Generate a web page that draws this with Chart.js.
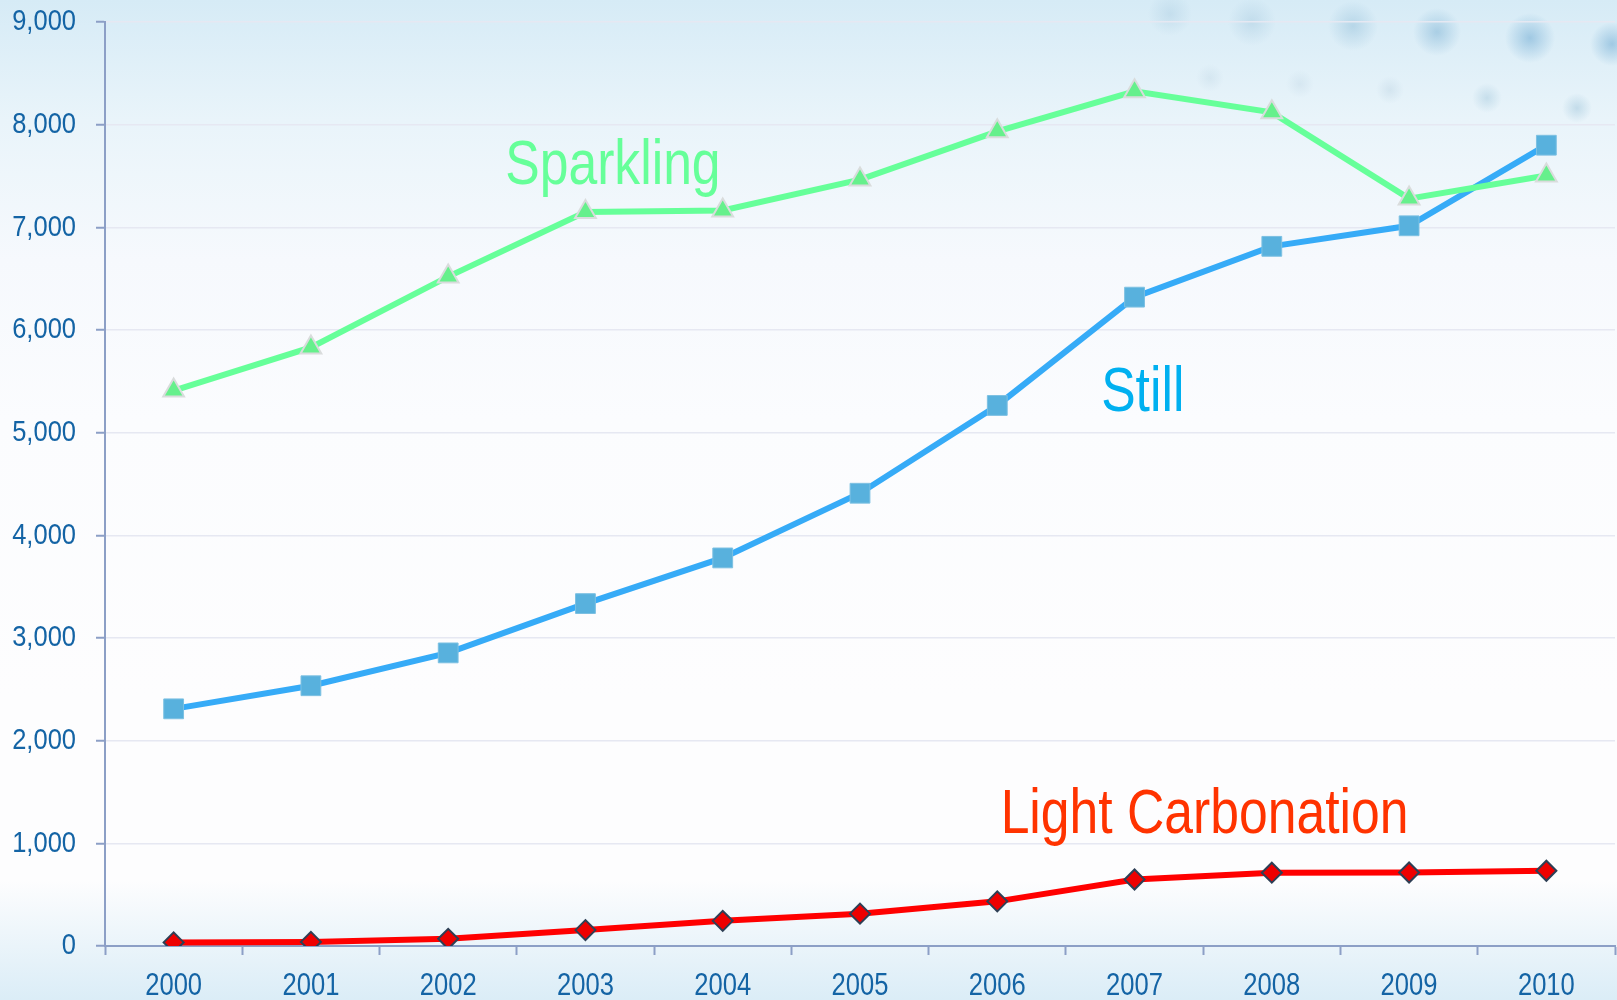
<!DOCTYPE html>
<html>
<head>
<meta charset="utf-8">
<title>Water sales</title>
<script src="https://cdn.jsdelivr.net/npm/chart.js@4/dist/chart.umd.min.js"></script>
<style>
  html, body {
    margin: 0;
    padding: 0;
    width: 1617px;
    height: 1000px;
    overflow: hidden;
  }
  body {
    background:
      radial-gradient(circle at 1170px 14px, rgba(150, 190, 215, 0.3) 0, rgba(150, 190, 215, 0) 22px),
      radial-gradient(circle at 1252px 22px, rgba(150, 190, 215, 0.35) 0, rgba(150, 190, 215, 0) 24px),
      radial-gradient(circle at 1353px 26px, rgba(130, 180, 210, 0.4) 0, rgba(130, 180, 210, 0) 25px),
      radial-gradient(circle at 1437px 32px, rgba(120, 175, 210, 0.5) 0, rgba(120, 175, 210, 0) 24px),
      radial-gradient(circle at 1530px 38px, rgba(110, 170, 210, 0.55) 0, rgba(110, 170, 210, 0) 25px),
      radial-gradient(circle at 1612px 44px, rgba(110, 170, 210, 0.55) 0, rgba(110, 170, 210, 0) 22px),
      radial-gradient(circle at 1210px 78px, rgba(160, 190, 210, 0.2) 0, rgba(160, 190, 210, 0) 14px),
      radial-gradient(circle at 1300px 84px, rgba(160, 190, 210, 0.2) 0, rgba(160, 190, 210, 0) 14px),
      radial-gradient(circle at 1390px 90px, rgba(160, 190, 210, 0.25) 0, rgba(160, 190, 210, 0) 14px),
      radial-gradient(circle at 1487px 98px, rgba(140, 185, 210, 0.35) 0, rgba(140, 185, 210, 0) 15px),
      radial-gradient(circle at 1577px 108px, rgba(140, 185, 210, 0.4) 0, rgba(140, 185, 210, 0) 15px),
      linear-gradient(to bottom, rgba(255, 255, 255, 0) 0, rgba(255, 255, 255, 0) 880px, rgba(215, 235, 246, 0.9) 1000px),
      linear-gradient(to bottom, #d6ebf6 0, #e9f4fa 120px, #f6f9fd 260px, #fbfcfe 420px, #fdfdfe 700px);
  }
  canvas {
    display: block;
  }
</style>
</head>
<body>
<canvas id="my-chart" width="1617" height="1000"></canvas>
<script>
"use strict";

const years = ["2000", "2001", "2002", "2003", "2004", "2005", "2006", "2007", "2008", "2009", "2010"];
const sparkling = [5410, 5830, 6520, 7150, 7165, 7465, 7935, 8325, 8120, 7280, 7505];
const still = [2310, 2535, 2855, 3335, 3780, 4410, 5265, 6320, 6815, 7015, 7800];
const lightCarbonation = [35, 40, 70, 155, 245, 315, 435, 648, 714, 716, 733];
const yTicks = [0, 1000, 2000, 3000, 4000, 5000, 6000, 7000, 8000, 9000];

// no narrow face is installed, so text is squeezed sideways instead
const baseFont = "'Liberation Sans', Arial, sans-serif";
const axisColor = "#8c9fc6";
const labelColor = "#1464a5";

// series names written straight on the plot, anchored to category / value
const seriesLabels = [
  { text: "Sparkling", at: 3.2, value: 7420, color: "#66ff99" },
  { text: "Still", at: 7.06, value: 5210, color: "#00b0f0" },
  { text: "Light Carbonation", at: 7.51, value: 1100, color: "#ff3300" },
];

function drawNarrowText(ctx, text, x, y, squeeze) {
  ctx.save();
  ctx.translate(x, y);
  ctx.scale(squeeze, 1);
  ctx.fillText(text, 0, 0);
  ctx.restore();
}

const narrowTextPlugin = {
  id: "narrowText",
  afterDraw(chart) {
    const ctx = chart.ctx;
    const xScale = chart.scales.x;
    const yScale = chart.scales.y;
    ctx.save();

    // y tick labels
    ctx.fillStyle = labelColor;
    ctx.font = "30px " + baseFont;
    ctx.textAlign = "right";
    ctx.textBaseline = "middle";
    for (let i = 0; i < yScale.ticks.length; i++) {
      const text = yScale.ticks[i].value.toLocaleString("en-US");
      drawNarrowText(ctx, text, yScale.right - 29, yScale.getPixelForTick(i), 0.85);
    }

    // x tick labels
    ctx.font = "32px " + baseFont;
    ctx.textAlign = "center";
    ctx.textBaseline = "alphabetic";
    for (let i = 0; i < years.length; i++) {
      drawNarrowText(ctx, years[i], xScale.getPixelForTick(i), xScale.top + 49, 0.8);
    }

    // series names
    ctx.font = "63px " + baseFont;
    for (let i = 0; i < seriesLabels.length; i++) {
      const lbl = seriesLabels[i];
      ctx.fillStyle = lbl.color;
      drawNarrowText(ctx, lbl.text, xScale.getPixelForValue(lbl.at), yScale.getPixelForValue(lbl.value), 0.82);
    }
    ctx.restore();
  },
};

renderChart();

function renderChart() {
  const ctx = document.getElementById("my-chart");

  new Chart(ctx, {
    type: "line",
    data: {
      labels: years,
      datasets: [
        {
          label: "Light Carbonation",
          data: lightCarbonation,
          borderColor: "#ff0000",
          borderWidth: 6,
          pointStyle: "rectRot",
          pointRadius: 10,
          pointBackgroundColor: "#ee0000",
          pointBorderColor: "#2e3f55",
          pointBorderWidth: 2,
          order: 1,
        },
        {
          label: "Still",
          data: still,
          borderColor: "#36abf7",
          borderWidth: 6,
          pointStyle: "rect",
          pointRadius: 14,
          pointBackgroundColor: "#58b1dd",
          pointBorderColor: "#7cc0e2",
          pointBorderWidth: 1,
          order: 3,
        },
        {
          label: "Sparkling",
          data: sparkling,
          borderColor: "#66ff99",
          borderWidth: 6,
          pointStyle: "triangle",
          pointRadius: 12,
          pointBackgroundColor: "#66f08c",
          pointBorderColor: "#d9dcdc",
          pointBorderWidth: 2,
          order: 2,
        },
      ],
    },
    options: {
      responsive: false,
      animation: false,
      layout: {
        autoPadding: false, // big markers would otherwise push the plot in from the right
        padding: { top: 22, right: 2, left: 0, bottom: 0 },
      },
      plugins: {
        legend: { display: false },
        tooltip: { enabled: false },
      },
      scales: {
        x: {
          offset: true,
          grid: {
            offset: true,
            drawOnChartArea: false,
            tickLength: 9,
            tickColor: axisColor,
            tickWidth: 2,
          },
          border: { color: axisColor, width: 2 },
          ticks: { display: false },
          afterFit(scale) {
            scale.height = 54;
          },
        },
        y: {
          min: 0,
          max: 9000,
          afterBuildTicks(scale) {
            scale.ticks = yTicks.map((v) => ({ value: v }));
          },
          grid: {
            color: "#e6e8f2",
            lineWidth: 1.5,
            tickLength: 9,
            tickColor: axisColor,
            tickWidth: 2,
          },
          border: { color: axisColor, width: 2 },
          ticks: { display: false },
          afterFit(scale) {
            scale.width = 105;
          },
        },
      },
    },
    plugins: [narrowTextPlugin],
  });
}
</script>
</body>
</html>
